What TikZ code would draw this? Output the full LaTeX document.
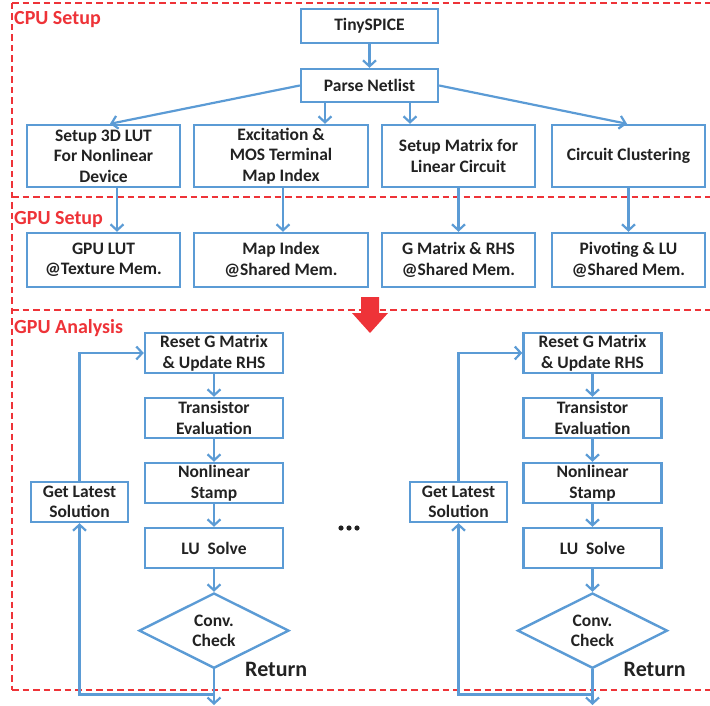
\documentclass[tikz,border=0pt]{standalone}
\usepackage{fontspec}
\setmainfont{Carlito}
\usetikzlibrary{arrows.meta, positioning, shapes.geometric}
\definecolor{BoxBlue}{HTML}{5B9BD5}
\definecolor{FrameRed}{HTML}{EE3338}
\definecolor{TextGray}{HTML}{222222}

\begin{document}
\begin{tikzpicture}[
  x=1pt, y=-1pt, node distance=22.6pt,
  block/.style={rectangle, draw=BoxBlue, line width=2.4pt, fill=white, align=center,
    text=TextGray, inner sep=2pt, font=\fontsize{17.5}{20.5}\selectfont\bfseries},
  cpubox/.style={block, minimum height=62pt},
  gpubox/.style={block, minimum height=54pt},
  stepbox/.style={block, minimum width=138pt, minimum height=40pt},
  check/.style={diamond, draw=BoxBlue, line width=2.4pt, fill=white, align=center,
    text=TextGray, inner sep=0pt, minimum width=150pt, minimum height=66pt,
    font=\fontsize{17.5}{20.5}\selectfont\bfseries},
  frame/.style={draw=FrameRed, line width=1.3pt, dash pattern=on 6.5pt off 4pt},
  region/.style={text=FrameRed, anchor=base west, inner sep=0pt,
    font=\fontsize{20}{23}\selectfont\bfseries},
  flow/.style={draw=BoxBlue, line width=2.2pt, -{Straight Barb[length=6pt, width=13pt]}}
]
  \useasboundingbox (0,0) rectangle (710,706);

  % dashed regions
  \draw[frame] (12,3) -- (12,690);
  \foreach \fy in {3,197,310,690}
    \draw[frame] (12,\fy) -- (716,\fy);
  \node[region] (cpulbl) at (14,25) {CPU Setup};
  \node[region] (gpulbl) at (14,224) {GPU Setup};
  \node[region] (anlbl) at (14,333) {GPU Analysis};

  % CPU setup
  \node[block, minimum width=137pt, minimum height=34pt] (tiny) at (369.5,26) {TinySPICE};
  \node[block, minimum width=137pt, minimum height=33pt, below=23.6pt of tiny] (parse) {Parse Netlist};
  \node[cpubox, minimum width=153pt] (lut) at (103.5,156) {Setup 3D LUT\\For Nonlinear\\Device};
  \node[cpubox, minimum width=174pt] (excite) at (281,156) {Excitation \&\\MOS Terminal\\Map Index};
  \node[cpubox, minimum width=153pt] (matrix) at (458.5,156) {Setup Matrix for\\Linear Circuit};
  \node[cpubox, minimum width=153pt] (cluster) at (628.5,156) {Circuit Clustering};

  \draw[flow] (tiny) -- (parse);
  \draw[flow] (parse.west) -- ([xshift=6.5]lut.north);
  \draw[flow] ([xshift=-44.5]parse.south) -- ([xshift=44]excite.north);
  \draw[flow] ([xshift=40.5]parse.south) -- ([xshift=-48.5]matrix.north);
  \draw[flow] (parse.east) -- ([xshift=-1.5]cluster.north);

  % GPU setup
  \node[gpubox, minimum width=153pt] (glut) at (103.5,260) {GPU LUT\\@Texture Mem.};
  \node[gpubox, minimum width=174pt] (gmap) at (281,260) {Map Index\\@Shared Mem.};
  \node[gpubox, minimum width=153pt] (grhs) at (458.5,260) {G Matrix \& RHS\\@Shared Mem.};
  \node[gpubox, minimum width=153pt] (gpiv) at (628.5,260) {Pivoting \& LU\\@Shared Mem.};

  \draw[flow] ([xshift=13.5]lut.south) -- ([xshift=13.5]glut.north);
  \draw[flow] ([xshift=2]excite.south) -- ([xshift=2]gmap.north);
  \draw[flow] (matrix) -- (grhs);
  \draw[flow] (cluster) -- (gpiv);

  \fill[FrameRed] (361,297) -- (379,297) -- (379,313) -- (388,313) -- (370,333)
    -- (352,313) -- (361,313) -- cycle;

  % GPU analysis
  \foreach \s/\cx/\lx in {A/214/79.5, B/592.5/458.5} {
    \node[stepbox] (reset\s) at (\cx,353) {Reset G Matrix\\\& Update RHS};
    \node[stepbox, below=of reset\s] (trans\s) {Transistor\\Evaluation};
    \node[stepbox, below=of trans\s] (stamp\s) {Nonlinear\\Stamp};
    \node[stepbox, below=of stamp\s] (lu\s) {LU~~Solve};
    \node[check, below=of lu\s] (conv\s) {Conv.\\Check};
    \node[block, minimum width=97pt, minimum height=40pt] (latest\s) at (\lx,502) {Get Latest\\Solution};
    \node[anchor=base west, inner sep=0pt, text=TextGray,
      font=\fontsize{22}{25}\selectfont\bfseries] (ret\s) at (\cx+31,676) {Return};
    \coordinate (out\s) at (\cx,705);

    \draw[flow] (reset\s) -- (trans\s);
    \draw[flow] (trans\s) -- (stamp\s);
    \draw[flow] (stamp\s) -- (lu\s);
    \draw[flow] (lu\s) -- (conv\s);
    \draw[flow] (conv\s.south) -- ++(0,25) -| (latest\s.south);
    \draw[flow] (latest\s.north) |- (reset\s.west);
    \draw[flow] (conv\s.south) -- (out\s);
  }

  \foreach \dx in {341,349,357}
    \fill[TextGray] (\dx,528) circle (2.6pt);
\end{tikzpicture}
\end{document}
